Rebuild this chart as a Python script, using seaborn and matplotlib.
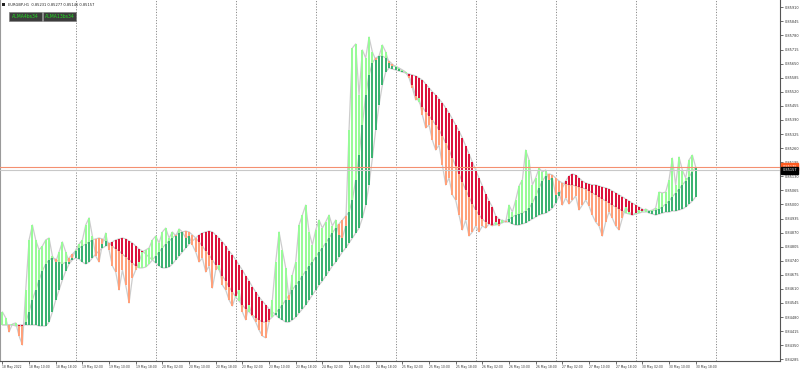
import numpy as np
import matplotlib
matplotlib.use("Agg")
import matplotlib.pyplot as plt
import matplotlib.transforms as mtransforms
from matplotlib.patches import Rectangle
import seaborn as sns

# ---------------- data (EURGBP H1) ----------------
fast_alma = [
    0.84504, 0.84476, 0.84411, 0.84448, 0.84453, 0.84393, 0.84351, 0.84605, 0.84836, 0.84905,
    0.84836, 0.84790, 0.84808, 0.84836, 0.84845, 0.84762, 0.84734, 0.84781, 0.84827, 0.84781,
    0.84734, 0.84753, 0.84790, 0.84817, 0.84836, 0.84905, 0.84938, 0.84854, 0.84762, 0.84734,
    0.84817, 0.84868, 0.84790, 0.84716, 0.84688, 0.84605, 0.84697, 0.84628, 0.84545, 0.84661,
    0.84697, 0.84734, 0.84781, 0.84790, 0.84799, 0.84836, 0.84854, 0.84822, 0.84873, 0.84891,
    0.84845, 0.84873, 0.84854, 0.84887, 0.84873, 0.84845, 0.84854, 0.84813, 0.84781, 0.84734,
    0.84753, 0.84688, 0.84716, 0.84614, 0.84697, 0.84720, 0.84628, 0.84605, 0.84559, 0.84531,
    0.84578, 0.84605, 0.84504, 0.84467, 0.84536, 0.84485, 0.84457, 0.84420, 0.84393, 0.84384,
    0.84457, 0.84559, 0.84734, 0.84873, 0.84790, 0.84707, 0.84559, 0.84674, 0.84734, 0.84905,
    0.84951, 0.84997, 0.84873, 0.84813, 0.84882, 0.84928, 0.84891, 0.84919, 0.84951, 0.84901,
    0.84928, 0.84859, 0.84845, 0.84901, 0.85344, 0.85722, 0.85741, 0.85505, 0.85713, 0.85676,
    0.85773, 0.85704, 0.85667, 0.85685, 0.85736, 0.85704, 0.85653, 0.85639, 0.85639, 0.85630,
    0.85621, 0.85611, 0.85584, 0.85538, 0.85482, 0.85491, 0.85413, 0.85353, 0.85367, 0.85297,
    0.85251, 0.85274, 0.85182, 0.85090, 0.85122, 0.85044, 0.85020, 0.84951, 0.84882, 0.84928,
    0.84854, 0.84873, 0.84901, 0.84873, 0.84901, 0.84891, 0.84910, 0.84901, 0.84919, 0.84901,
    0.84928, 0.84919, 0.84997, 0.84965, 0.85020, 0.85085, 0.85113, 0.85251, 0.85205, 0.85090,
    0.85122, 0.85168, 0.85150, 0.85159, 0.85113, 0.85122, 0.85044, 0.85057, 0.84997, 0.85030,
    0.85002, 0.85020, 0.85039, 0.84974, 0.84997, 0.85020, 0.84993, 0.84951, 0.84919, 0.84901,
    0.84854, 0.84919, 0.84965, 0.84937, 0.84901, 0.84882, 0.84937, 0.84988, 0.84965, 0.84951,
    0.84960, 0.84974, 0.84970, 0.84979, 0.84970, 0.84974, 0.84983, 0.85057, 0.85053, 0.85057,
    0.85113, 0.85214, 0.85090, 0.85219, 0.85159, 0.85122, 0.85205, 0.85228, 0.85173,
]

slow_alma = [
    0.84444, 0.84444, 0.84444, 0.84444, 0.84439, 0.84439, 0.84439, 0.84457, 0.84504, 0.84559,
    0.84605, 0.84651, 0.84693, 0.84725, 0.84744, 0.84753, 0.84748, 0.84734, 0.84725, 0.84734,
    0.84753, 0.84771, 0.84785, 0.84799, 0.84808, 0.84817, 0.84827, 0.84836, 0.84841, 0.84845,
    0.84841, 0.84831, 0.84822, 0.84808, 0.84794, 0.84785, 0.84771, 0.84757, 0.84744, 0.84730,
    0.84716, 0.84707, 0.84707, 0.84711, 0.84725, 0.84744, 0.84762, 0.84781, 0.84799, 0.84817,
    0.84831, 0.84845, 0.84859, 0.84868, 0.84873, 0.84877, 0.84873, 0.84859, 0.84845, 0.84827,
    0.84808, 0.84785, 0.84767, 0.84744, 0.84720, 0.84697, 0.84670, 0.84647, 0.84619, 0.84596,
    0.84573, 0.84554, 0.84536, 0.84517, 0.84504, 0.84490, 0.84476, 0.84467, 0.84457, 0.84457,
    0.84467, 0.84480, 0.84499, 0.84517, 0.84536, 0.84559, 0.84582, 0.84605, 0.84628, 0.84647,
    0.84670, 0.84693, 0.84716, 0.84734, 0.84757, 0.84781, 0.84799, 0.84822, 0.84845, 0.84868,
    0.84891, 0.84910, 0.84928, 0.84946, 0.84965, 0.85020, 0.85113, 0.85228, 0.85367, 0.85505,
    0.85597, 0.85653, 0.85676, 0.85685, 0.85685, 0.85676, 0.85662, 0.85648, 0.85634, 0.85625,
    0.85616, 0.85607, 0.85593, 0.85552, 0.85501, 0.85473, 0.85450, 0.85427, 0.85408, 0.85390,
    0.85367, 0.85344, 0.85316, 0.85284, 0.85251, 0.85214, 0.85178, 0.85141, 0.85104, 0.85067,
    0.85035, 0.85002, 0.84974, 0.84951, 0.84933, 0.84919, 0.84910, 0.84905, 0.84905, 0.84910,
    0.84915, 0.84924, 0.84933, 0.84942, 0.84951, 0.84956, 0.84960, 0.84970, 0.84983, 0.85006,
    0.85039, 0.85076, 0.85108, 0.85131, 0.85141, 0.85136, 0.85122, 0.85108, 0.85099, 0.85094,
    0.85090, 0.85090, 0.85085, 0.85080, 0.85076, 0.85071, 0.85062, 0.85053, 0.85044, 0.85035,
    0.85025, 0.85016, 0.85006, 0.84997, 0.84988, 0.84979, 0.84970, 0.84960, 0.84956, 0.84951,
    0.84956, 0.84960, 0.84965, 0.84965, 0.84970, 0.84970, 0.84974, 0.84979, 0.84988, 0.85002,
    0.85016, 0.85035, 0.85053, 0.85071, 0.85090, 0.85108, 0.85127, 0.85150, 0.85173,
]

slow_alma_lagged = [
    0.84444, 0.84444, 0.84444, 0.84444, 0.84444, 0.84444, 0.84444,
    0.84444, 0.84444, 0.84444, 0.84444, 0.84439, 0.84439, 0.84439, 0.84457, 0.84504, 0.84559,
    0.84605, 0.84651, 0.84693, 0.84725, 0.84744, 0.84753, 0.84748, 0.84734, 0.84725, 0.84734,
    0.84753, 0.84771, 0.84785, 0.84799, 0.84808, 0.84817, 0.84827, 0.84836, 0.84841, 0.84845,
    0.84841, 0.84831, 0.84822, 0.84808, 0.84794, 0.84785, 0.84771, 0.84757, 0.84744, 0.84730,
    0.84716, 0.84707, 0.84707, 0.84711, 0.84725, 0.84744, 0.84762, 0.84781, 0.84799, 0.84817,
    0.84831, 0.84845, 0.84859, 0.84868, 0.84873, 0.84877, 0.84873, 0.84859, 0.84845, 0.84827,
    0.84808, 0.84785, 0.84767, 0.84744, 0.84720, 0.84697, 0.84670, 0.84647, 0.84619, 0.84596,
    0.84573, 0.84554, 0.84536, 0.84517, 0.84504, 0.84490, 0.84476, 0.84467, 0.84457, 0.84457,
    0.84467, 0.84480, 0.84499, 0.84517, 0.84536, 0.84559, 0.84582, 0.84605, 0.84628, 0.84647,
    0.84670, 0.84693, 0.84716, 0.84734, 0.84757, 0.84781, 0.84799,
    0.84822, 0.84845, 0.84868, 0.84891, 0.84937, 0.84997, 0.85090, 0.85214, 0.85344, 0.85459,
    0.85551, 0.85611, 0.85630, 0.85625, 0.85621, 0.85616, 0.85611, 0.85607, 0.85602, 0.85598,
    0.85593, 0.85584, 0.85574, 0.85556, 0.85538, 0.85520, 0.85505, 0.85487, 0.85468, 0.85445,
    0.85422, 0.85394, 0.85367, 0.85339, 0.85307, 0.85270, 0.85233, 0.85196, 0.85159, 0.85122,
    0.85085, 0.85048, 0.85016, 0.84988, 0.84947, 0.84933, 0.84924, 0.84919, 0.84919,
    0.84910, 0.84905, 0.84905, 0.84910, 0.84915, 0.84924, 0.84933, 0.84942, 0.84951, 0.84956,
    0.84960, 0.84970, 0.84983, 0.85006, 0.85039, 0.85076, 0.85108, 0.85131, 0.85141, 0.85136,
    0.85122, 0.85108, 0.85099, 0.85094, 0.85090, 0.85090, 0.85085, 0.85080, 0.85076, 0.85071,
    0.85062, 0.85053, 0.85044, 0.85035, 0.85025, 0.85016, 0.85006, 0.84997, 0.84988, 0.84979,
    0.84970, 0.84960, 0.84956, 0.84951, 0.84956, 0.84960, 0.84965, 0.84965, 0.84970, 0.84970,
    0.84974, 0.84979, 0.84988, 0.85002, 0.85016, 0.85035,
]

x_tick_labels = [
    "18 May 2022", "18 May 10:00", "18 May 18:00", "19 May 02:00", "19 May 10:00",
    "19 May 18:00", "20 May 02:00", "20 May 10:00", "20 May 18:00", "23 May 02:00",
    "23 May 10:00", "23 May 18:00", "24 May 02:00", "24 May 10:00", "24 May 18:00",
    "25 May 02:00", "25 May 10:00", "25 May 18:00", "26 May 02:00", "26 May 10:00",
    "26 May 18:00", "27 May 02:00", "27 May 10:00", "27 May 18:00", "30 May 02:00",
    "30 May 10:00", "30 May 18:00",
]
y_tick_values = [
    0.85910, 0.85845, 0.85780, 0.85715, 0.85650, 0.85585, 0.85520, 0.85455, 0.85390,
    0.85325, 0.85260, 0.85195, 0.85130, 0.85065, 0.85000, 0.84935, 0.84870, 0.84805,
    0.84740, 0.84675, 0.84610, 0.84545, 0.84480, 0.84415, 0.84350, 0.84285,
]
day_start_bars = [22, 46, 70, 94, 118, 142, 166, 190, 214]
bid_price = 0.85157
ask_price = 0.85175
title_text = "EURGBP,H1  0.85231 0.85277 0.85146 0.85157"
legend_names = ["ALMA4bs34", "ALMA13bs34"]

# ---------------- drawing ----------------
sns.set_theme(style="white")
plt.rcParams['font.family'] = ['DejaVu Sans']

fast = np.array(fast_alma)
slow = np.array(slow_alma)
lag = np.array(slow_alma_lagged)
idx = np.arange(len(slow))

fig = plt.figure(figsize=(8, 3.7), dpi=100)
fig.patch.set_facecolor('white')
ax = fig.add_axes([0.0, 9 / 370, 780 / 800, 361 / 370])
ax.set_facecolor('white')

for d in day_start_bars:
    ax.axvline(d, color='#8c8c8c', lw=0.7, ls=(0, (1.2, 1.6)), zorder=0)

for series in (fast, slow, lag):
    sns.lineplot(x=idx, y=series, ax=ax, color='#cccccc', lw=0.9,
                 zorder=1, legend=False, estimator=None)

dark_col = np.where(slow >= lag, '#3CB371', '#DC143C')
ax.bar(idx, np.abs(slow - lag), bottom=np.minimum(slow, lag), width=0.62,
       color=dark_col, linewidth=0, zorder=2)
light_col = np.where(fast >= slow, '#98FB98', '#FFA07A')
ax.bar(idx, np.abs(fast - slow), bottom=np.minimum(fast, slow), width=0.62,
       color=light_col, linewidth=0, zorder=3)

ax.axhline(ask_price, color='#f49070', lw=0.8, zorder=4)
ax.axhline(bid_price, color='#c8c8c8', lw=0.8, zorder=4)

ax.set_xlim(-0.72, 233.3)
ax.set_ylim(0.842772, 0.859437)

ax.spines['top'].set_visible(False)
ax.spines['left'].set_color('#9a9a9a')
ax.spines['left'].set_linewidth(0.8)
ax.spines['right'].set_color('#555555')
ax.spines['right'].set_linewidth(0.8)
ax.spines['bottom'].set_color('#555555')
ax.spines['bottom'].set_linewidth(0.8)

ax.yaxis.tick_right()
ax.set_yticks(y_tick_values)
ax.set_yticklabels([f"{v:.5f}" for v in y_tick_values])
ax.tick_params(axis='y', right=True, left=False, length=2, width=0.5, pad=1.2,
               labelsize=2.5, colors='#333333')
ax.set_xticks(np.arange(0, len(slow), 8))
ax.set_xticklabels(x_tick_labels)
ax.tick_params(axis='x', bottom=True, length=2, width=0.5, pad=1.0,
               labelsize=2.2, colors='#333333')
for lbl in ax.get_xticklabels():
    lbl.set_ha('left')
ax.set_xlabel('')
ax.set_ylabel('')
ax.grid(False)

# price labels on the right axis
btrans = mtransforms.blended_transform_factory(ax.transAxes, ax.transData)
ax.text(1.003, ask_price, f"{ask_price:.5f}", transform=btrans, fontsize=2.5,
        color='white', va='center', ha='left', clip_on=False, zorder=6,
        bbox=dict(boxstyle='square,pad=0.35', fc='#ff5a1e', ec='#ff5a1e'))
ax.text(1.003, bid_price, f"{bid_price:.5f}", transform=btrans, fontsize=2.5,
        color='white', va='center', ha='left', clip_on=False, zorder=6,
        bbox=dict(boxstyle='square,pad=0.35', fc='black', ec='black'))

# title and indicator labels
fig.add_artist(Rectangle((2 / 800, 1 - 6 / 370), 3 / 800, 3 / 370,
                         transform=fig.transFigure, fc='#222222', ec='none'))
fig.text(8 / 800, 1 - 4.5 / 370, title_text, fontsize=2.6, color='#222222',
         va='center', ha='left')
for k, name in enumerate(legend_names):
    x0 = (9 + 34 * k) / 800
    fig.add_artist(Rectangle((x0, 1 - 20.5 / 370), 33 / 800, 9 / 370,
                             transform=fig.transFigure, fc='#3c3c3c',
                             ec='#808080', lw=0.5))
    fig.text(x0 + 16.5 / 800, 1 - 16 / 370, name, fontsize=3.3, color='#22dd22',
             va='center', ha='center')

fig.savefig('out.png', dpi=100, facecolor='white')
